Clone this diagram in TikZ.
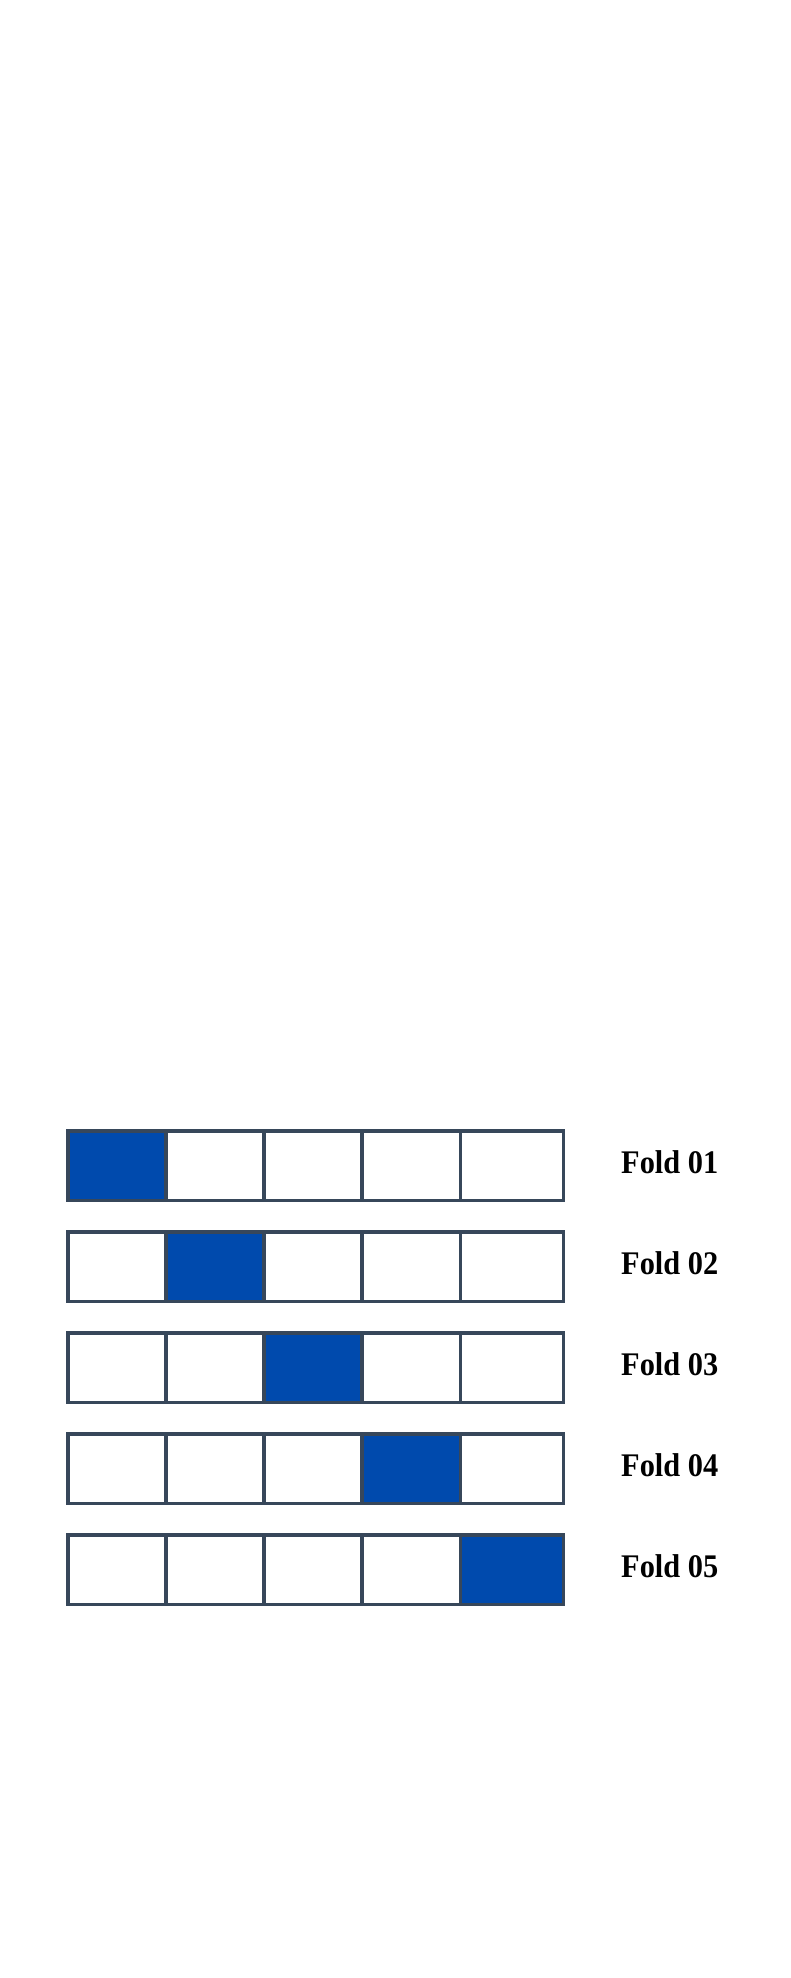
\documentclass[tikz,border=0pt]{standalone}
\usepackage{fontspec}
\setmainfont{Liberation Serif}
\newfontfamily\foldfont[FakeStretch=0.92]{Liberation Serif}
\usetikzlibrary{positioning}
\definecolor{foldblue}{HTML}{004AAD}
\definecolor{cellline}{HTML}{37475A}
\tikzset{
  cell/.style={draw=cellline, line width=3.6pt, fill=white,
    minimum height=69.5pt, inner sep=0pt, outer sep=0pt},
  testcell/.style={cell, fill=foldblue},
  foldlabel/.style={font=\foldfont\fontsize{33}{40}\selectfont\bfseries, inner sep=0pt,
    anchor=base west},
}

\begin{document}
\begin{tikzpicture}[x=1pt,y=-1pt]
  \useasboundingbox (0,0) rectangle (791,1978);
  % one row per fold, the test part in blue
  \foreach \r in {1,...,5} {
    \foreach \c/\x/\w in {1/117/98, 2/215/98, 3/313/98, 4/411.25/98.5, 5/512/103} {
      \ifnum\c=\r
        \node [testcell, minimum width=\w pt] (c\r\c) at (\x, {1165.8+101*(\r-1)}) {};
      \else
        \node [cell, minimum width=\w pt] (c\r\c) at (\x, {1165.8+101*(\r-1)}) {};
      \fi
    }
    \node [foldlabel] (f\r) at ([xshift=57.5pt, yshift=-7.5pt]c\r5.east) {Fold 0\r};
  }
\end{tikzpicture}
\end{document}
